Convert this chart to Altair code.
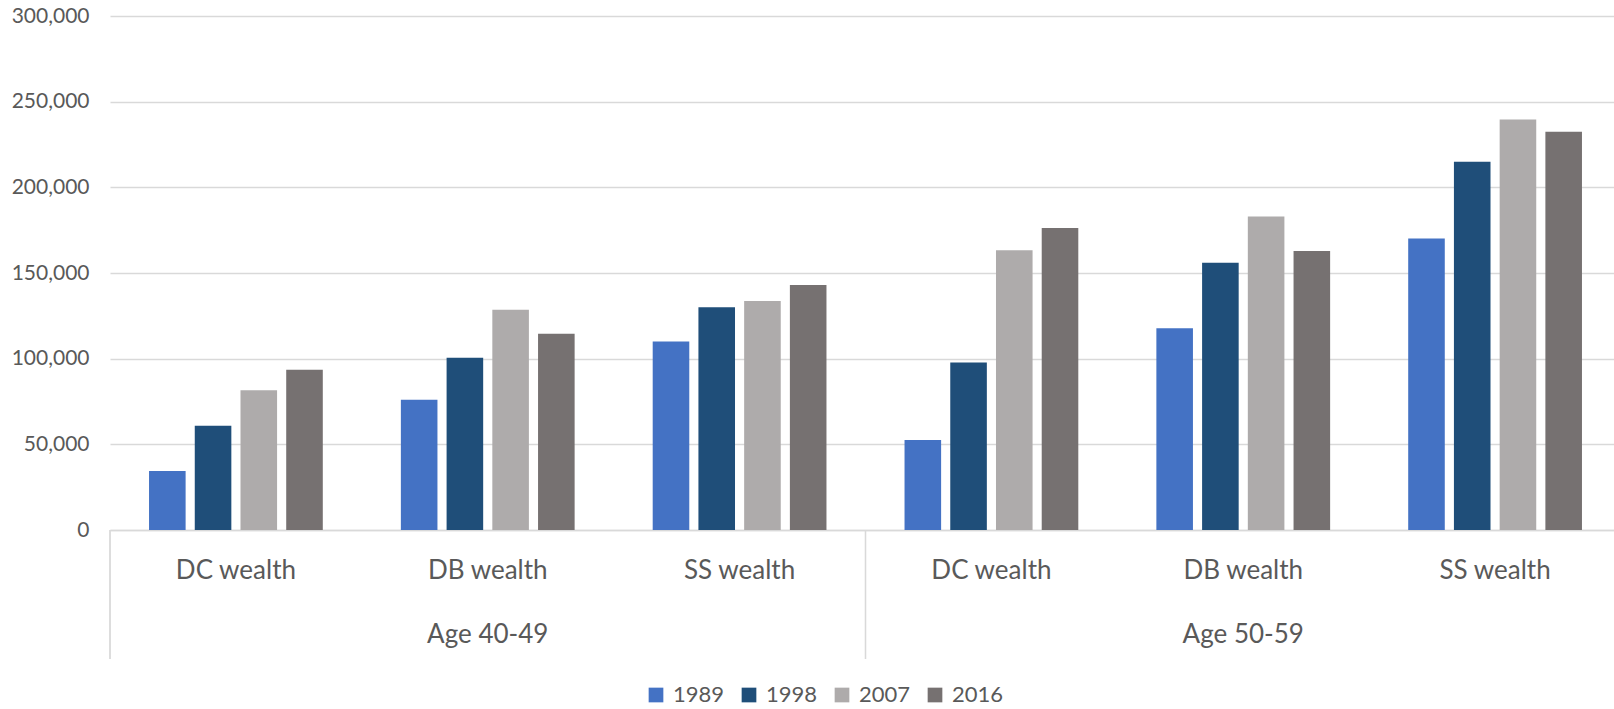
import altair as alt
import pandas as pd

age_groups = ["Age 40-49", "Age 50-59"]
wealth_types = ["DC wealth", "DB wealth", "SS wealth"]
years = ["1989", "1998", "2007", "2016"]
colors = ["#4472C4", "#1F4E79", "#AEABAB", "#767171"]

# values per category, order: 40-49 DC, DB, SS, 50-59 DC, DB, SS
v1989 = [34500, 76000, 110000, 52500, 117700, 170100]
v1998 = [60800, 100500, 130000, 97800, 156000, 215000]
v2007 = [81500, 128500, 133700, 163300, 183000, 239600]
v2016 = [93500, 114500, 143000, 176200, 162800, 232500]

y_ticks = [0, 50000, 100000, 150000, 200000, 250000, 300000]

keys = [f"{a}|{w}" for a in age_groups for w in wealth_types]
series = dict(zip(years, [v1989, v1998, v2007, v2016]))
rows = []
for yr in years:
    for k, v in zip(keys, series[yr]):
        rows.append({"key": k, "year": yr, "value": v})
df = pd.DataFrame(rows)

df_age = pd.DataFrame({"key": [f"{a}|DB wealth" for a in age_groups], "label": age_groups})

W = 1504
RANGE_W = 1511
H = 514
STEP = RANGE_W / len(keys)
TEXT = "#595959"
GRID = "#D9D9D9"

xscale = alt.Scale(range=[0, RANGE_W], paddingInner=0.31, paddingOuter=0.155)

bars = alt.Chart(df).mark_bar().encode(
    x=alt.X("key:N", sort=keys, scale=xscale,
            axis=alt.Axis(title=None, labelExpr="split(datum.label, '|')[1]", ticks=False,
                          domainColor=GRID, domainWidth=1.3, labelFont="Lato", labelFontSize=26,
                          labelColor=TEXT, labelPadding=27, labelAngle=0, grid=False)),
    xOffset=alt.XOffset("year:N", sort=years, scale=alt.Scale(paddingInner=0.2, paddingOuter=0)),
    y=alt.Y("value:Q", scale=alt.Scale(domain=[0, 300000], nice=False),
            axis=alt.Axis(values=y_ticks, format=",.0f", title=None, ticks=False, domain=False,
                          gridColor=GRID, gridWidth=1.3, labelFont="Lato", labelFontSize=21,
                          labelColor=TEXT, labelPadding=21)),
    color=alt.Color("year:N", sort=years, scale=alt.Scale(domain=years, range=colors),
                    legend=alt.Legend(title=None, orient="none", legendX=535, legendY=668,
                                      direction="horizontal", symbolType="square", symbolSize=216,
                                      symbolStrokeWidth=0, labelFont="Lato", labelFontSize=22,
                                      labelColor=TEXT, columnPadding=13, labelOffset=6)),
)

age_text = alt.Chart(df_age).mark_text(font="Lato", fontSize=26, color=TEXT,
                                       baseline="alphabetic", align="center").encode(
    x=alt.X("key:N", sort=keys, scale=xscale),
    y=alt.value(627),
    text="label:N",
)

div1 = alt.Chart(df_age).mark_rule(color=GRID, strokeWidth=1.3).encode(
    x=alt.value(0), y=alt.value(H), y2=alt.value(643))
div2 = alt.Chart(df_age).mark_rule(color=GRID, strokeWidth=1.3).encode(
    x=alt.value(3 * STEP), y=alt.value(H), y2=alt.value(643))

chart = alt.layer(bars, age_text, div1, div2).properties(
    width=W, height=H,
    padding={"left": 110, "top": 16, "right": 0, "bottom": 179},
    autosize=alt.AutoSizeParams(type="none"),
    background="white",
).configure_view(stroke=None)

chart.save("out.html", embed_options={"renderer": "svg", "actions": False})
